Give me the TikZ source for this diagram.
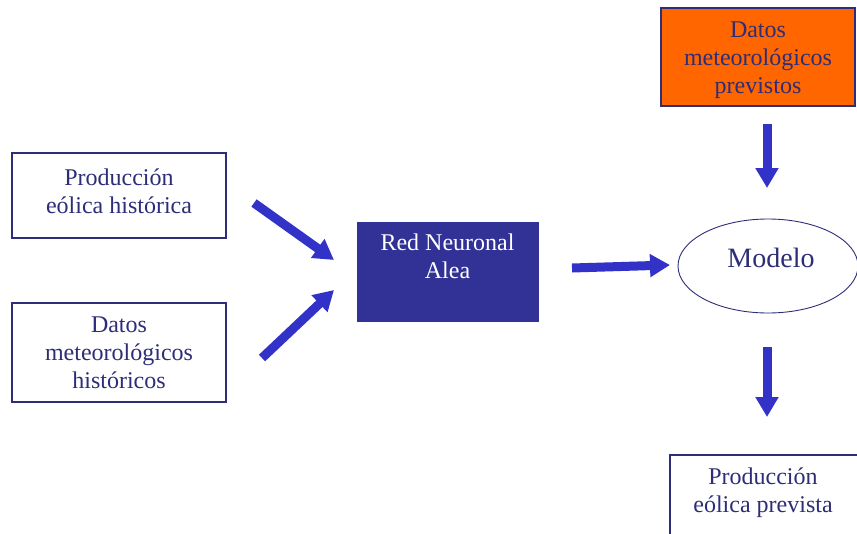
\documentclass[tikz,border=0pt]{standalone}
\usepackage{fontspec}
\setmainfont{Liberation Serif}
\usetikzlibrary{arrows.meta,shapes.geometric}
\definecolor{navy}{RGB}{45,45,120}
\definecolor{arrowblue}{RGB}{50,50,200}
\definecolor{boxblue}{RGB}{50,50,150}
\definecolor{orangebox}{RGB}{255,102,0}
\tikzset{
  x=1pt,y=-1pt,
  txt/.style={font=\fontsize{24}{28}\selectfont, text=navy, align=center},
  whitebox/.style={draw=navy, line width=1.6pt, fill=white},
  bigarrow/.style={draw=arrowblue, line width=9pt, -{Triangle[length=20pt,width=22pt]}},
}
\begin{document}
\begin{tikzpicture}
\useasboundingbox (0,0) rectangle (857,533);
\fill[white] (0,0) rectangle (857,533);
\begin{scope}
\clip (0,0) rectangle (857,533);
% left boxes
\node[whitebox, minimum width=214pt, minimum height=85pt] (b1) at (119,195.5) {};
\node[txt] (t1) at (119,191) {Producción\\eólica histórica};
\node[whitebox, minimum width=214pt, minimum height=99pt] (b2) at (119,352.5) {};
\node[txt] (t2) at (b2.center) {Datos\\meteorológicos\\históricos};
% red neuronal
\node[draw=boxblue, fill=boxblue, minimum width=181pt, minimum height=99pt] (rn) at (447.5,271.5) {};
\node[txt, text=white] (trn) at (447.5,256.5) {Red Neuronal\\Alea};
% orange
\node[draw=navy, line width=1.2pt, fill=orangebox, minimum width=194pt, minimum height=98pt] (or) at (758,57) {};
\node[txt] (tor) at (758,60) {Datos\\meteorológicos\\previstos};
% ellipse
\draw[navy, line width=0.9pt] (768,266) ellipse [x radius=90, y radius=47];
\node[font=\fontsize{28}{30}\selectfont, text=navy] (mod) at (771,258) {Modelo};
% bottom box
\node[whitebox, minimum width=192pt, minimum height=100pt] (b3) at (766,505) {};
\node[txt] (t3) at (763,493) {Producción\\eólica prevista};
\end{scope}
% arrows
\coordinate (a1s) at (254,203);
\coordinate (a1e) at (334,260);
\coordinate (a2s) at (262,358);
\coordinate (a2e) at (334,290);
\coordinate (a3s) at (572,268);
\coordinate (a3e) at (670,265);
\coordinate (a4s) at (767,124);
\coordinate (a4e) at (767,188);
\coordinate (a5s) at (767,347);
\coordinate (a5e) at (767,417);
\draw[bigarrow] (a1s) -- (a1e);
\draw[bigarrow] (a2s) -- (a2e);
\draw[bigarrow] (a3s) -- (a3e);
\draw[bigarrow] (a4s) -- (a4e);
\draw[bigarrow] (a5s) -- (a5e);
\end{tikzpicture}
\end{document}
